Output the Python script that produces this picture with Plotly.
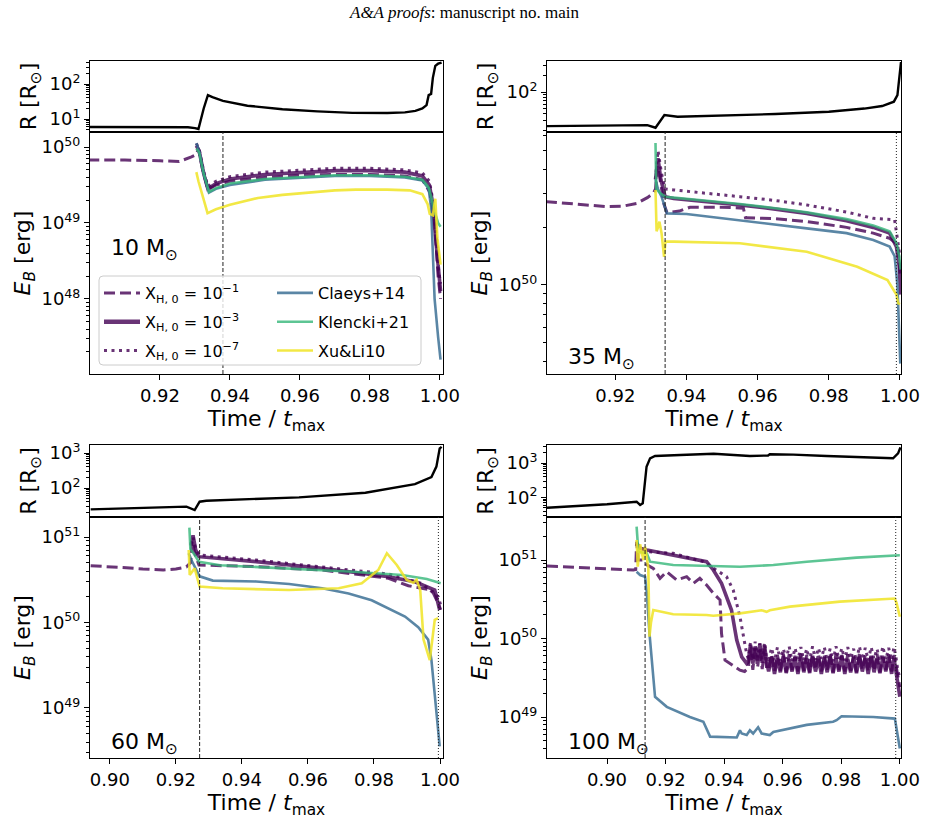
import numpy as np
import plotly.graph_objects as go

W, H = 928, 823

# ===================== DATA =====================
# time in units of t_max ; energies stored as log10(E_B / erg) ; radii in R_sun

# ---- 10 Msun ----
T1_R = [0.9000, 0.9100, 0.9200, 0.9280, 0.9300, 0.9310, 0.9325, 0.9337, 0.9350, 0.9380, 0.9450, 0.9550,
        0.9650, 0.9750, 0.9850, 0.9900, 0.9930, 0.9950, 0.9962, 0.9968, 0.9975, 0.9980, 0.9987, 0.9995, 1.0005]
R1 = [5.9, 5.9, 5.85, 5.8, 5.5, 5.2, 20, 48, 42, 33, 24, 19, 16.5, 15, 14.8, 15.5, 17, 20, 25, 48, 52, 150, 330, 380, 410]
T1_X1 = [0.8995, 0.9100, 0.9200, 0.9255, 0.9290, 0.9304, 0.9310, 0.9322, 0.9337, 0.9360, 0.9400, 0.9500, 0.9600,
         0.9700, 0.9800, 0.9900, 0.9950, 0.9972, 0.9985, 0.9995, 1.0002]
E1_X1 = [49.83, 49.83, 49.82, 49.81, 49.87, 49.90, 49.98, 49.70, 49.44, 49.50, 49.55, 49.60, 49.63, 49.64, 49.64,
         49.62, 49.57, 49.40, 49.00, 48.30, 48.00]
T1_M = [0.9304, 0.9312, 0.9325, 0.9337, 0.9360, 0.9400, 0.9500, 0.9600, 0.9700, 0.9800, 0.9900, 0.9950, 0.9970,
        0.9978, 0.9988, 0.9996, 1.0002]
E1_X3 = [50.02, 49.95, 49.65, 49.45, 49.52, 49.58, 49.64, 49.67, 49.69, 49.69, 49.67, 49.62, 49.50, 49.30, 48.80, 48.30, 48.10]
E1_X7 = [50.05, 49.97, 49.68, 49.48, 49.55, 49.61, 49.67, 49.70, 49.72, 49.72, 49.70, 49.66, 49.55, 49.35, 48.90, 48.40, 48.20]
T1_C = [0.9304, 0.9312, 0.9325, 0.9340, 0.9360, 0.9400, 0.9500, 0.9600, 0.9700, 0.9800, 0.9900, 0.9950, 0.9968,
        0.9975, 0.9985, 0.9995, 1.0002]
E1_CL = [50.05, 49.95, 49.65, 49.40, 49.45, 49.50, 49.57, 49.60, 49.62, 49.62, 49.60, 49.56, 49.45, 49.20, 48.00, 47.50, 47.20]
E1_KL = [49.98, 49.93, 49.65, 49.41, 49.46, 49.52, 49.58, 49.61, 49.63, 49.63, 49.61, 49.57, 49.47, 49.35, 49.15, 49.00, 48.95]
T1_XU = [0.9304, 0.9310, 0.9336, 0.9360, 0.9400, 0.9480, 0.9550, 0.9620, 0.9700, 0.9760, 0.9850, 0.9914, 0.9950,
         0.9965, 0.9971, 0.9980, 0.9987, 0.9993, 1.0002]
E1_XU = [49.67, 49.55, 49.13, 49.18, 49.24, 49.33, 49.37, 49.40, 49.43, 49.44, 49.44, 49.43, 49.38, 49.25, 49.12,
         49.10, 49.32, 48.80, 48.45]

# ---- 35 Msun ----
T2_R = [0.9005, 0.9100, 0.9200, 0.9290, 0.9313, 0.9325, 0.9338, 0.9375, 0.9450, 0.9540, 0.9650, 0.9800, 0.9900,
        0.9950, 0.9983, 0.9993, 0.9998, 1.0003]
R2 = [24.0, 24.4, 24.8, 25.0, 22.4, 28.5, 38.2, 35.6, 36.6, 38.2, 39.8, 43.9, 50.0, 55.6, 66.7, 88.0, 165.0, 350.0]
T2_X1 = [0.9005, 0.9050, 0.9100, 0.9177, 0.9220, 0.9260, 0.9290, 0.9307, 0.9313, 0.9318, 0.9325, 0.9337, 0.9345,
         0.9380, 0.9410, 0.9500, 0.9560, 0.9566, 0.9650, 0.9740, 0.9850, 0.9925, 0.9971, 0.9994, 1.0000]
E2_X1 = [50.434, 50.428, 50.418, 50.408, 50.410, 50.425, 50.455, 50.478, 50.50, 50.62, 50.56, 50.42, 50.377, 50.385,
         50.405, 50.405, 50.40, 50.35, 50.345, 50.33, 50.30, 50.27, 50.243, 50.21, 50.05]
T2_X3 = [0.9313, 0.9320, 0.9328, 0.9340, 0.9364, 0.9450, 0.9550, 0.9650, 0.9738, 0.9850, 0.9925, 0.9971, 0.9990,
         0.9998, 1.0002]
E2_X3 = [50.55, 50.66, 50.55, 50.46, 50.45, 50.435, 50.417, 50.395, 50.373, 50.335, 50.30, 50.27, 50.20, 50.10, 49.95]
T2_X7 = [0.9313, 0.9320, 0.9330, 0.9340, 0.9364, 0.9450, 0.9550, 0.9650, 0.9738, 0.9850, 0.9925, 0.9985, 0.9993, 1.0000]
E2_X7 = [50.55, 50.70, 50.58, 50.50, 50.495, 50.48, 50.46, 50.44, 50.417, 50.38, 50.347, 50.34, 50.23, 50.15]
T2_CL = [0.9313, 0.9320, 0.9330, 0.9340, 0.9345, 0.9400, 0.9550, 0.9738, 0.9850, 0.9925, 0.9971, 0.9985, 0.9993,
         0.9997, 1.0001]
E2_CL = [50.55, 50.50, 50.46, 50.40, 50.373, 50.37, 50.338, 50.295, 50.27, 50.234, 50.20, 50.15, 50.00, 49.75, 49.59]
T2_KL = [0.9313, 0.9315, 0.9325, 0.9340, 0.9364, 0.9450, 0.9550, 0.9650, 0.9738, 0.9850, 0.9925, 0.9971, 0.9990,
         0.9998, 1.0002]
E2_KL = [50.74, 50.50, 50.48, 50.46, 50.455, 50.44, 50.422, 50.40, 50.378, 50.343, 50.31, 50.28, 50.22, 50.15, 50.08]
T2_XU = [0.9313, 0.9316, 0.9320, 0.9324, 0.9330, 0.9337, 0.9341, 0.9365, 0.9550, 0.9738, 0.9880, 0.9965, 0.9990,
         0.9995, 1.0000]
E2_XU = [50.495, 50.28, 50.30, 50.33, 50.27, 50.147, 50.226, 50.226, 50.217, 50.173, 50.095, 50.026, 49.95, 49.905, 49.90]

# ---- 60 Msun ----
T3_R = [0.8942, 0.9050, 0.9150, 0.9232, 0.9257, 0.9272, 0.9292, 0.9400, 0.9573, 0.9774, 0.9924, 0.9974, 0.9989,
        0.9999, 1.0005]
R3 = [24.5, 26.0, 28.0, 29.4, 23.5, 40.6, 43.3, 47.0, 54.0, 73.0, 129.0, 205.0, 408.0, 1360.0, 1500.0]
T3_X1 = [0.8942, 0.9000, 0.9050, 0.9100, 0.9162, 0.9200, 0.9232, 0.9245, 0.9249, 0.9258, 0.9270, 0.9443, 0.9643,
         0.9844, 0.9904, 0.9944, 0.9975, 0.9995, 1.0002]
E3_X1 = [50.664, 50.655, 50.64, 50.625, 50.614, 50.625, 50.65, 50.70, 50.95, 50.80, 50.673, 50.653, 50.614, 50.517,
         50.43, 50.40, 50.38, 50.22, 50.15]
T3_X3 = [0.9246, 0.9252, 0.9260, 0.9270, 0.9443, 0.9643, 0.9844, 0.9924, 0.9984, 0.9999]
E3_X3 = [50.90, 51.02, 50.85, 50.77, 50.712, 50.634, 50.536, 50.477, 50.38, 50.146]
T3_X7 = [0.9246, 0.9252, 0.9260, 0.9270, 0.9443, 0.9643, 0.9844, 0.9944, 0.9995, 1.0002]
E3_X7 = [50.92, 51.00, 50.86, 50.79, 50.73, 50.653, 50.567, 50.458, 50.30, 50.20]
T3_CL = [0.9239, 0.9247, 0.9272, 0.9312, 0.9443, 0.9543, 0.9643, 0.9723, 0.9793, 0.9843, 0.9894, 0.9934, 0.9964,
         0.9974, 0.9999]
E3_CL = [50.81, 50.73, 50.54, 50.49, 50.48, 50.45, 50.40, 50.34, 50.26, 50.17, 50.07, 49.945, 49.80, 49.56, 48.55]
T3_KL = [0.9241, 0.9244, 0.9255, 0.9270, 0.9334, 0.9535, 0.9735, 0.9885, 0.9960, 0.9985, 1.0002]
E3_KL = [51.11, 50.86, 50.80, 50.71, 50.67, 50.634, 50.594, 50.556, 50.51, 50.48, 50.46]
T3_XU = [0.9239, 0.9242, 0.9257, 0.9272, 0.9342, 0.9543, 0.9693, 0.9763, 0.9813, 0.9839, 0.9869, 0.9899, 0.9919,
         0.9929, 0.9940, 0.9950, 0.9969, 0.9984, 0.9994]
E3_XU = [50.848, 50.556, 50.634, 50.42, 50.40, 50.38, 50.40, 50.458, 50.614, 50.81, 50.673, 50.497, 50.466, 50.50,
         50.38, 49.80, 49.56, 50.03, 50.05]

# ---- 100 Msun ----
T4_R = [0.8795, 0.8900, 0.9000, 0.9101, 0.9113, 0.9122, 0.9135, 0.9147, 0.9164, 0.9250, 0.9352, 0.9364, 0.9488,
        0.9550, 0.9556, 0.9636, 0.9750, 0.9977, 0.9994, 1.0002]
R4 = [50.6, 57.0, 64.0, 75.5, 60.7, 68.0, 780.0, 1370.0, 1600.0, 1700.0, 1900.0, 1850.0, 1600.0, 1650.0, 1800.0,
      1750.0, 1600.0, 1370.0, 1900.0, 2850.0]
T4_X1 = [0.8795, 0.8900, 0.9000, 0.9090, 0.9098, 0.9101, 0.9107, 0.9124, 0.9136, 0.9147, 0.9158, 0.9181, 0.9204,
         0.9238, 0.9272, 0.9295, 0.9317, 0.9340, 0.9363, 0.9386, 0.9391, 0.9403, 0.9454, 0.9470]
E4_X1 = [50.924, 50.905, 50.89, 50.873, 50.88, 51.233, 51.00, 51.00, 50.94, 50.915, 50.894, 50.767, 50.851, 50.745,
         50.788, 50.703, 50.767, 50.682, 50.576, 50.49, 50.066, 49.724, 49.597, 49.58]
T4_X3 = [0.9101, 0.9113, 0.9136, 0.9226, 0.9340, 0.9363, 0.9391, 0.9425, 0.9443, 0.9460, 0.9477]
E4_X3 = [51.212, 51.15, 51.127, 51.064, 50.979, 50.873, 50.703, 50.363, 49.98, 49.767, 49.682]
T4_X7 = [0.9101, 0.9136, 0.9226, 0.9329, 0.9408, 0.9431, 0.9454, 0.9468, 0.9477]
E4_X7 = [51.20, 51.106, 51.085, 50.979, 50.788, 50.618, 50.278, 49.95, 49.80]
# the oscillating (numerically noisy) late phase of the three X_H runs
NOISE_T4 = [0.9482, 0.9490, 0.9498, 0.9506, 0.9514, 0.9522, 0.9530, 0.9538, 0.9545,
            0.9552, 0.9562, 0.9572, 0.9582, 0.9592, 0.9602, 0.9612, 0.9622, 0.9632, 0.9642, 0.9652, 0.9662,
            0.9672, 0.9682, 0.9692, 0.9702, 0.9712, 0.9722, 0.9732, 0.9742, 0.9752, 0.9762, 0.9772, 0.9782,
            0.9792, 0.9802, 0.9812, 0.9822, 0.9832, 0.9842, 0.9852, 0.9862, 0.9872, 0.9882, 0.9892, 0.9902,
            0.9912, 0.9922, 0.9932, 0.9942, 0.9952, 0.9962, 0.9972, 0.9980]
NOISE_X1 = [49.62, 49.86, 49.60, 49.88, 49.63, 49.85, 49.61, 49.87, 49.62,
            49.60, 49.80, 49.58, 49.79, 49.59, 49.81, 49.57, 49.80, 49.60, 49.78, 49.58, 49.81, 49.59, 49.79,
            49.57, 49.80, 49.60, 49.81, 49.58, 49.78, 49.59, 49.80, 49.57, 49.81, 49.60, 49.79, 49.58, 49.80,
            49.59, 49.78, 49.57, 49.81, 49.60, 49.79, 49.58, 49.80, 49.59, 49.81, 49.57, 49.78, 49.60, 49.80,
            49.58, 49.79]
NOISE_X3 = [49.70, 49.92, 49.68, 49.90, 49.72, 49.93, 49.69, 49.91, 49.70,
            49.58, 49.77, 49.55, 49.75, 49.57, 49.78, 49.56, 49.74, 49.58, 49.76, 49.55, 49.77, 49.57, 49.75,
            49.56, 49.78, 49.58, 49.74, 49.55, 49.76, 49.57, 49.77, 49.56, 49.75, 49.58, 49.78, 49.55, 49.74,
            49.57, 49.76, 49.56, 49.77, 49.58, 49.75, 49.55, 49.78, 49.57, 49.74, 49.56, 49.76, 49.58, 49.77,
            49.55, 49.75]
NOISE_X7 = [49.75, 49.95, 49.73, 49.96, 49.76, 49.94, 49.74, 49.95, 49.75,
            49.73, 49.88, 49.71, 49.89, 49.72, 49.87, 49.74, 49.90, 49.71, 49.88, 49.73, 49.89, 49.72, 49.87,
            49.71, 49.90, 49.73, 49.88, 49.74, 49.89, 49.72, 49.87, 49.71, 49.90, 49.73, 49.88, 49.72, 49.89,
            49.74, 49.87, 49.71, 49.90, 49.73, 49.88, 49.72, 49.89, 49.74, 49.87, 49.71, 49.90, 49.73, 49.88,
            49.72, 49.89]
TAIL_T4 = [0.9986, 0.9993, 1.0000]
TAIL_X1 = [49.68, 49.50, 49.38]
TAIL_X3 = [49.62, 49.45, 49.26]
TAIL_X7 = [49.78, 49.60, 49.50]
T4_CL = [0.9101, 0.9113, 0.9130, 0.9136, 0.9145, 0.9164, 0.9204, 0.9283, 0.9329, 0.9334, 0.9352, 0.9443, 0.9454,
         0.9460, 0.9477, 0.9488, 0.9499, 0.9516, 0.9528, 0.9556, 0.9568, 0.9682, 0.9772, 0.9784, 0.9801, 0.9909,
         0.9983, 1.0000]
E4_CL = [50.851, 50.809, 50.788, 50.576, 50.066, 49.258, 49.13, 49.00, 48.94, 48.90, 48.75, 48.74, 48.83, 48.79,
         48.77, 48.83, 48.79, 48.87, 48.79, 48.77, 48.81, 48.90, 48.94, 48.96, 49.01, 49.00, 48.98, 48.60]
T4_KL = [0.9101, 0.9107, 0.9136, 0.9147, 0.9226, 0.9454, 0.9568, 0.9682, 0.9852, 1.0000]
E4_KL = [51.425, 51.106, 51.085, 50.979, 50.936, 50.915, 50.936, 50.979, 51.03, 51.06]
T4_XU = [0.9101, 0.9105, 0.9113, 0.9124, 0.9130, 0.9141, 0.9145, 0.9150, 0.9158, 0.9226, 0.9340, 0.9363, 0.9454,
         0.9528, 0.9545, 0.9556, 0.9625, 0.9795, 0.9983, 0.9989, 1.0000]
E4_XU = [51.255, 50.915, 51.20, 51.00, 51.17, 50.90, 50.023, 50.20, 50.363, 50.31, 50.299, 50.29, 50.32, 50.36,
         50.34, 50.36, 50.406, 50.47, 50.51, 50.45, 50.278]

MASS_LABELS = ['10', '35', '60', '100']
VLINE_DASH = [0.938, 0.934, 0.9272, 0.913]       # dashed vertical markers
VLINE_DOT = [None, 0.999, 0.9995, 0.9986]        # dotted vertical markers
X_RANGE = [[0.9, 1.0009], [0.9008, 1.0003], [0.894, 1.0009], [0.8795, 1.0004]]
E_RANGE = [[47.01, 50.199], [49.536, 50.797], [48.415, 51.234], [48.478, 51.548]]   # log10
R_RANGE = [[0.629, 2.657], [1.273, 2.564], [1.171, 3.229], [1.435, 3.522]]          # log10
X_TICKS = [[0.92, 0.94, 0.96, 0.98, 1.00], [0.92, 0.94, 0.96, 0.98, 1.00],
           [0.90, 0.92, 0.94, 0.96, 0.98, 1.00], [0.90, 0.92, 0.94, 0.96, 0.98, 1.00]]

LEG_X = ['X<sub>H, 0</sub> = 10<sup>\u22121</sup>', 'X<sub>H, 0</sub> = 10<sup>\u22123</sup>',
         'X<sub>H, 0</sub> = 10<sup>\u22127</sup>']
LEG_M = ['Claeys+14', 'Klencki+21', 'Xu&amp;Li10']

PANELS = [
    dict(R=(T1_R, R1), X1=(T1_X1, E1_X1), X3=(T1_M, E1_X3), X7=(T1_M, E1_X7),
         CL=(T1_C, E1_CL), KL=(T1_C, E1_KL), XU=(T1_XU, E1_XU)),
    dict(R=(T2_R, R2), X1=(T2_X1, E2_X1), X3=(T2_X3, E2_X3), X7=(T2_X7, E2_X7),
         CL=(T2_CL, E2_CL), KL=(T2_KL, E2_KL), XU=(T2_XU, E2_XU)),
    dict(R=(T3_R, R3), X1=(T3_X1, E3_X1), X3=(T3_X3, E3_X3), X7=(T3_X7, E3_X7),
         CL=(T3_CL, E3_CL), KL=(T3_KL, E3_KL), XU=(T3_XU, E3_XU)),
    dict(R=(T4_R, R4),
         X1=(T4_X1 + NOISE_T4 + TAIL_T4, E4_X1 + NOISE_X1 + TAIL_X1),
         X3=(T4_X3 + NOISE_T4 + TAIL_T4, E4_X3 + NOISE_X3 + TAIL_X3),
         X7=(T4_X7 + NOISE_T4 + TAIL_T4, E4_X7 + NOISE_X7 + TAIL_X7),
         CL=(T4_CL, E4_CL), KL=(T4_KL, E4_KL), XU=(T4_XU, E4_XU)),
]

# ===================== STYLE =====================
PURPLE = 'rgba(68,1,84,0.8)'
C_CL = 'rgba(49,104,142,0.8)'
C_KL = 'rgba(53,183,121,0.8)'
C_XU = 'rgba(240,228,37,0.85)'
STYLES = [('X1', PURPLE, 3.0, '11px,5px'), ('X3', PURPLE, 3.6, 'solid'), ('X7', PURPLE, 3.0, '3px,4.5px'),
          ('CL', C_CL, 2.6, 'solid'), ('KL', C_KL, 2.6, 'solid'), ('XU', C_XU, 2.6, 'solid')]
FONT = 'DejaVu Sans'
TICKF = dict(family=FONT, size=18, color='black')
TITLEF = dict(family=FONT, size=22, color='black')

COLX = [(90, 443), (547, 901)]
ROWS = [dict(top=61, mid=132, bot=374), dict(top=445, mid=517, bot=758)]


def pxx(p):
    return p / W


def pxy(p):
    return 1 - p / H


def aid(letter, n):
    return letter if n == 1 else f'{letter}{n}'


def lay(letter, n):
    return f'{letter}axis' if n == 1 else f'{letter}axis{n}'


def lg(v):
    return [10.0 ** e for e in v]


def majors(lo, hi):
    return list(range(int(np.ceil(lo)), int(np.floor(hi)) + 1))


def minors(lo, hi):
    out = []
    for k in range(int(np.floor(lo)), int(np.ceil(hi)) + 1):
        for m in range(2, 10):
            v = m * 10.0 ** k
            if lo <= np.log10(v) <= hi:
                out.append(v)
    return out


def logaxis(rng, dom, anchor, title, standoff):
    mj = majors(*rng)
    return dict(type='log', range=rng, domain=dom, anchor=anchor,
                showline=True, mirror=True, linecolor='black', linewidth=1,
                ticks='outside', ticklen=5, tickwidth=1, tickcolor='black',
                tickmode='array', tickvals=[10.0 ** k for k in mj], ticktext=[f'10<sup>{k}</sup>' for k in mj],
                tickfont=TICKF, showgrid=False, zeroline=False,
                minor=dict(tickmode='array', tickvals=minors(*rng), ticks='outside', ticklen=3,
                           tickwidth=1, tickcolor='black', showgrid=False),
                title=dict(text=title, font=TITLEF, standoff=standoff), automargin=True)


fig = go.Figure()
layout = {}
shapes = []
annotations = []

for i, P in enumerate(PANELS):
    col, row = i % 2, i // 2
    nR, nE = 2 * i + 1, 2 * i + 2
    xdom = [pxx(COLX[col][0]), pxx(COLX[col][1])]
    r = ROWS[row]
    ydomR = [pxy(r['mid']), pxy(r['top'])]
    ydomE = [pxy(r['bot']), pxy(r['mid'])]

    fig.add_trace(go.Scatter(x=P['R'][0], y=P['R'][1], mode='lines', line=dict(color='black', width=2.4),
                             xaxis=aid('x', nR), yaxis=aid('y', nR), showlegend=False, hoverinfo='skip'))
    for key, color, width, dash in STYLES:
        t, e = P[key]
        fig.add_trace(go.Scatter(x=t, y=lg(e), mode='lines', line=dict(color=color, width=width, dash=dash),
                                 xaxis=aid('x', nE), yaxis=aid('y', nE), showlegend=False, hoverinfo='skip'))

    layout[lay('x', nR)] = dict(domain=xdom, anchor=aid('y', nR), range=X_RANGE[i], matches=aid('x', nE),
                                showticklabels=False, showline=True, mirror=True, linecolor='black',
                                linewidth=1, ticks='', showgrid=False, zeroline=False)
    layout[lay('x', nE)] = dict(domain=xdom, anchor=aid('y', nE), range=X_RANGE[i],
                                showline=True, mirror=True, linecolor='black', linewidth=1,
                                ticks='outside', ticklen=5, tickwidth=1, tickcolor='black',
                                tickmode='array', tickvals=X_TICKS[i], ticktext=[f'{v:.2f}' for v in X_TICKS[i]],
                                tickfont=TICKF, showgrid=False, zeroline=False,
                                title=dict(text='Time / <i>t</i><sub>max</sub>', font=TITLEF, standoff=6),
                                automargin=True)
    layout[lay('y', nR)] = logaxis(R_RANGE[i], ydomR, aid('x', nR), 'R [R<sub>\u2299</sub>]', 6)
    layout[lay('y', nE)] = logaxis(E_RANGE[i], ydomE, aid('x', nE), '<i>E<sub>B</sub></i> [erg]', 4)

    shapes.append(dict(type='line', xref=aid('x', nE), yref=f"{aid('y', nE)} domain",
                       x0=VLINE_DASH[i], x1=VLINE_DASH[i], y0=0, y1=1,
                       line=dict(color='#222222', width=1, dash='4px,2px')))
    if VLINE_DOT[i] is not None:
        shapes.append(dict(type='line', xref=aid('x', nE), yref=f"{aid('y', nE)} domain",
                           x0=VLINE_DOT[i], x1=VLINE_DOT[i], y0=0, y1=1,
                           line=dict(color='#222222', width=1, dash='1px,2px')))
    ylab = 0.516 if i == 0 else 0.062
    annotations.append(dict(xref=f"{aid('x', nE)} domain", yref=f"{aid('y', nE)} domain", x=0.055, y=ylab,
                            xanchor='left', yanchor='middle', showarrow=False,
                            text=f'{MASS_LABELS[i]} M<sub>\u2299</sub>', font=dict(family=FONT, size=22, color='black')))

# legend entries (two columns as two legends inside one framed box)
for lab, (key, color, width, dash) in zip(LEG_X + LEG_M, STYLES):
    which = 'legend' if key in ('X1', 'X3', 'X7') else 'legend2'
    fig.add_trace(go.Scatter(x=[None], y=[None], mode='lines', name=lab,
                             line=dict(color=color, width=width if key != 'X3' else 4.5, dash=dash),
                             xaxis='x2', yaxis='y2', legend=which, legendgroup=key, showlegend=True))

bx0, bx1, by0, by1, rr = 99, 421, 276, 365, 4
box = (f'M {pxx(bx0 + rr)} {pxy(by0)} L {pxx(bx1 - rr)} {pxy(by0)} Q {pxx(bx1)} {pxy(by0)} {pxx(bx1)} {pxy(by0 + rr)} '
       f'L {pxx(bx1)} {pxy(by1 - rr)} Q {pxx(bx1)} {pxy(by1)} {pxx(bx1 - rr)} {pxy(by1)} '
       f'L {pxx(bx0 + rr)} {pxy(by1)} Q {pxx(bx0)} {pxy(by1)} {pxx(bx0)} {pxy(by1 - rr)} '
       f'L {pxx(bx0)} {pxy(by0 + rr)} Q {pxx(bx0)} {pxy(by0)} {pxx(bx0 + rr)} {pxy(by0)} Z')
shapes.append(dict(type='path', xref='paper', yref='paper', path=box, layer='above',
                   fillcolor='rgba(255,255,255,0.8)', line=dict(color='#cccccc', width=1)))

annotations.append(dict(xref='paper', yref='paper', x=0.5, y=pxy(12), xanchor='center', yanchor='middle',
                        showarrow=False, text='<i>A&amp;A proofs</i>: manuscript no. main',
                        font=dict(family='Liberation Serif', size=17, color='black')))

legcommon = dict(xanchor='left', yanchor='top', bgcolor='rgba(0,0,0,0)', borderwidth=0,
                 font=dict(family=FONT, size=16, color='black'), itemwidth=36, tracegroupgap=5,
                 traceorder='grouped', itemclick=False, itemdoubleclick=False)
layout['legend'] = dict(x=pxx(99), y=pxy(276), **legcommon)
layout['legend2'] = dict(x=pxx(272), y=pxy(276), **legcommon)

fig.update_layout(width=W, height=H, margin=dict(l=0, r=0, t=0, b=0, autoexpand=False), paper_bgcolor='white',
                  plot_bgcolor='white', font=dict(family=FONT, color='black'), shapes=shapes,
                  annotations=annotations, **layout)
fig.write_html('out.html')
